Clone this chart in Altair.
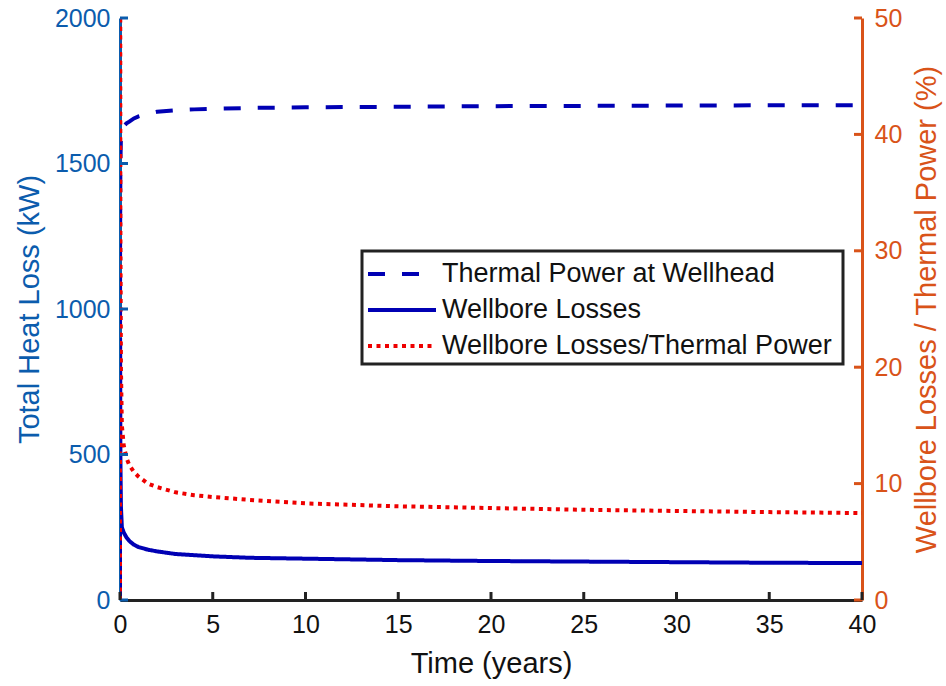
import altair as alt
import pandas as pd

# ---- data ----
t_years = [0, 0.005, 0.02, 0.05, 0.1, 0.2, 0.35, 0.5, 0.75, 1, 1.5, 2, 3, 4, 5, 7,
           10, 15, 20, 25, 30, 35, 40]
thermal_kw = [0, 1200, 1500, 1587, 1610, 1628, 1638, 1644, 1655, 1662, 1671, 1678,
              1683, 1686, 1688, 1691, 1693, 1695, 1697, 1698, 1699, 1700, 1700]
losses_kw = [0, 900, 500, 320, 250, 232, 215, 203, 190, 182, 173, 167, 158, 154,
             150, 145, 142, 137, 134, 132, 130, 128, 127]
ratio_pct = [0, 75, 33, 20, 15.0, 13.3, 12.2, 11.6, 11.0, 10.6, 10.0, 9.7, 9.25,
             9.0, 8.85, 8.6, 8.3, 8.05, 7.9, 7.75, 7.65, 7.55, 7.47]

series_names = ["Thermal Power at Wellhead", "Wellbore Losses",
                "Wellbore Losses/Thermal Power"]
left_ticks = [0, 500, 1000, 1500, 2000]
right_ticks = [0, 10, 20, 30, 40, 50]
x_ticks = [0, 5, 10, 15, 20, 25, 30, 35, 40]

BLUE_AX = "#0b5cad"
ORANGE = "#D95319"
DARK = "#222222"
LINE_BLUE = "#0000b4"
RED = "#ee0000"
FONT = "Liberation Sans"

W, H = 742, 582
TICK = 8
X_DOM = [0, 40]
KW_DOM = [0, 2000]
PCT_DOM = [0, 50]

kw_df = pd.concat([
    pd.DataFrame({"t": t_years, "value": thermal_kw, "series": series_names[0]}),
    pd.DataFrame({"t": t_years, "value": losses_kw, "series": series_names[1]}),
])
pct_df = pd.DataFrame({"t": t_years, "pct": ratio_pct, "series": series_names[2]})

legend_def = alt.Legend(orient="none", legendX=263, legendY=237)
color_enc = alt.Color(
    "series:N", title=None,
    scale=alt.Scale(domain=series_names, range=[LINE_BLUE, LINE_BLUE, RED]),
    legend=legend_def,
)
dash_enc = alt.StrokeDash(
    "series:N", title=None,
    scale=alt.Scale(domain=series_names, range=[[17, 17], [1, 0], [4, 4.5]]),
    legend=legend_def,
)


def xscale():
    return alt.Scale(domain=X_DOM, nice=False, zero=False)


kw_lines = alt.Chart(kw_df).mark_line(clip=True, strokeWidth=4).encode(
    x=alt.X("t:Q", title="Time (years)", scale=xscale(),
            axis=alt.Axis(values=x_ticks, format="d", labelFlush=False,
                          domainColor=DARK, labelColor="#111111",
                          titleColor="#111111", labelPadding=12, titlePadding=12)),
    y=alt.Y("value:Q", title="Total Heat Loss (kW)",
            scale=alt.Scale(domain=KW_DOM, nice=False),
            axis=alt.Axis(orient="left", values=left_ticks, format="d",
                          domainColor=BLUE_AX, labelColor=BLUE_AX,
                          titleColor=BLUE_AX, labelPadding=10, titlePadding=10)),
    color=color_enc, strokeDash=dash_enc,
)

pct_line = alt.Chart(pct_df).mark_line(clip=True, strokeWidth=4).encode(
    x=alt.X("t:Q", scale=xscale(), axis=None),
    y=alt.Y("pct:Q", title="Wellbore Losses / Thermal Power (%)",
            scale=alt.Scale(domain=PCT_DOM, nice=False),
            axis=alt.Axis(orient="right", values=right_ticks, format="d",
                          domainColor=ORANGE, labelColor=ORANGE,
                          titleColor=ORANGE, labelPadding=12, titlePadding=40,
                          titleAngle=270)),
    color=color_enc, strokeDash=dash_enc,
)

# inward-pointing axis ticks, placed through the same scales
left_tick_marks = alt.Chart(pd.DataFrame({"lt": left_ticks})).mark_rule(
    color=BLUE_AX, strokeWidth=3
).encode(
    y=alt.Y("lt:Q", scale=alt.Scale(domain=KW_DOM, nice=False), axis=None),
    x=alt.value(0), x2=alt.value(TICK),
)
right_tick_marks = alt.Chart(pd.DataFrame({"rt": right_ticks})).mark_rule(
    color=ORANGE, strokeWidth=3
).encode(
    y=alt.Y("rt:Q", scale=alt.Scale(domain=PCT_DOM, nice=False), axis=None),
    x=alt.value(W - TICK), x2=alt.value(W),
)
bottom_tick_marks = alt.Chart(pd.DataFrame({"bt": x_ticks})).mark_rule(
    color=DARK, strokeWidth=3
).encode(
    x=alt.X("bt:Q", scale=xscale(), axis=None),
    y=alt.value(H - TICK), y2=alt.value(H),
)

# frame drawn around the legend entries
legend_frame = alt.Chart(pd.DataFrame({"k": [0]})).mark_rect(
    fill="white", stroke=DARK, strokeWidth=3
).encode(x=alt.value(242), x2=alt.value(723), y=alt.value(233), y2=alt.value(346))

chart = (
    alt.layer(legend_frame, kw_lines, pct_line, left_tick_marks, right_tick_marks,
              bottom_tick_marks)
    .resolve_scale(x="independent", y="independent")
    .properties(
        width=W, height=H,
        autosize=alt.AutoSizeParams(type="none"),
        padding={"left": 120, "top": 18, "right": 84, "bottom": 86},
        background="white",
    )
    .configure_view(stroke=None)
    .configure_axis(
        grid=False, ticks=False, tickSize=0, domainWidth=3,
        labelFont=FONT, labelFontSize=25, titleFont=FONT, titleFontSize=29,
        titleFontWeight="normal",
    )
    .configure_legend(
        padding=0, rowPadding=4, symbolSize=1156, symbolStrokeWidth=4,
        symbolType="M-2,0L2,0", labelFont=FONT, labelFontSize=27,
        labelColor="#111111", labelOffset=21, labelLimit=600,
    )
)

chart.save("out.html", embed_options={"renderer": "svg", "actions": False})
